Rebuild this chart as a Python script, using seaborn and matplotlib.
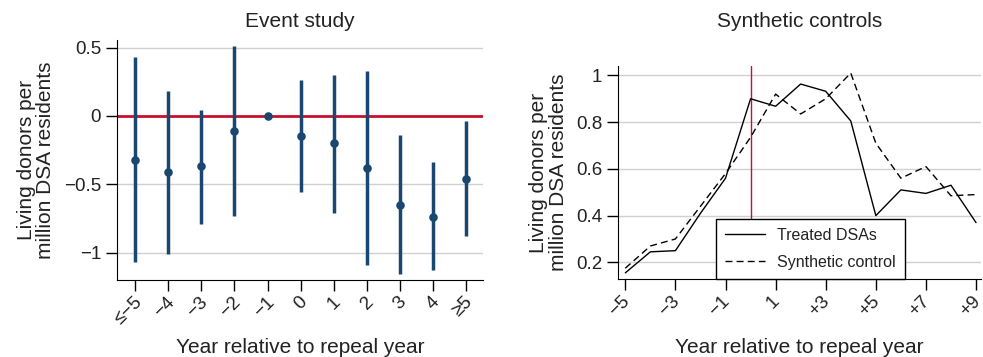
import numpy as np
import pandas as pd
import matplotlib
matplotlib.use('Agg')
import matplotlib.pyplot as plt
import matplotlib.transforms as mtransforms
import seaborn as sns

## Event study data ##
event_years = [-5, -4, -3, -2, -1, 0, 1, 2, 3, 4, 5]
event_labels = ['≤−5', '−4', '−3', '−2', '−1', '0', '1', '2', '3', '4', '≥5']
event_coef = [-0.32, -0.41, -0.37, -0.11, 0.0, -0.15, -0.20, -0.38, -0.65, -0.74, -0.46]
event_low = [-1.07, -1.01, -0.79, -0.73, 0.0, -0.56, -0.71, -1.09, -1.16, -1.13, -0.88]
event_high = [0.43, 0.18, 0.04, 0.51, 0.0, 0.26, 0.30, 0.33, -0.14, -0.34, -0.04]

## Synthetic control data ##
synth_years = [-5, -4, -3, -2, -1, 0, 1, 2, 3, 4, 5, 6, 7, 8, 9]
treated = [0.155, 0.245, 0.25, 0.41, 0.56, 0.90, 0.868, 0.963, 0.932, 0.805, 0.40, 0.51, 0.495, 0.53, 0.37]
synthetic = [0.175, 0.27, 0.30, 0.44, 0.58, 0.735, 0.92, 0.835, 0.90, 1.01, 0.71, 0.56, 0.61, 0.485, 0.49]
synth_ticks = [-5, -3, -1, 1, 3, 5, 7, 9]
synth_labels = ['−5', '−3', '−1', '1', '+3', '+5', '+7', '+9']

sns.set_style('white')
plt.rcParams['font.family'] = ['Liberation Sans', 'DejaVu Sans']

navy = '#1a476f'
red = '#c8102e'
grid_color = '#d0d0d0'
text_color = '#222222'
fs_title = 15
fs_label = 15
fs_tick = 13.5

fig = plt.figure(figsize=(9.83, 3.57), dpi=100)
ax1 = fig.add_axes([0.119, 0.216, 0.372, 0.672])
ax2 = fig.add_axes([0.629, 0.218, 0.369, 0.597])

# Event study panel
es = pd.DataFrame({'year': event_years, 'coef': event_coef, 'low': event_low, 'high': event_high})
for y in [0.5, -0.5, -1]:
    ax1.axhline(y, color=grid_color, lw=1, zorder=0)
ax1.axhline(0, color=red, lw=2, zorder=1)
ax1.vlines(es['year'], es['low'], es['high'], color=navy, lw=2.5, zorder=2)
sns.scatterplot(data=es, x='year', y='coef', ax=ax1, color=navy, s=38,
                edgecolor=navy, linewidth=0, zorder=3, legend=False)
ax1.set_xlim(-5.55, 5.5)
ax1.set_ylim(-1.2, 0.556)
ax1.set_yticks([0.5, 0, -0.5, -1])
ax1.set_yticklabels(['0.5', '0', '−0.5', '−1'])
ax1.set_xticks(event_years)
ax1.set_xticklabels(event_labels)
ax1.set_title('Event study', fontsize=fs_title, pad=9, color=text_color)
ax1.set_xlabel('Year relative to repeal year', fontsize=fs_label, labelpad=7, color=text_color)
ax1.set_ylabel('Living donors per\nmillion DSA residents', fontsize=fs_label, labelpad=6,
               linespacing=1.05, color=text_color)

# Synthetic controls panel
sc = pd.DataFrame({
    'year': synth_years * 2,
    'value': treated + synthetic,
    'group': ['Treated DSAs'] * len(synth_years) + ['Synthetic control'] * len(synth_years),
})
for y in [0.2, 0.4, 0.6, 0.8, 1.0]:
    ax2.axhline(y, color=grid_color, lw=1, zorder=0)
ax2.axvline(0, color=red, lw=1, zorder=1)
sns.lineplot(data=sc, x='year', y='value', style='group', ax=ax2, color='black',
             lw=1, dashes={'Treated DSAs': '', 'Synthetic control': (5, 3)}, zorder=2)
ax2.set_xlim(-5.28, 9.2)
ax2.set_ylim(0.128, 1.04)
ax2.set_yticks([0.2, 0.4, 0.6, 0.8, 1.0])
ax2.set_yticklabels(['0.2', '0.4', '0.6', '0.8', '1'])
ax2.set_xticks(synth_ticks)
ax2.set_xticklabels(synth_labels)
ax2.set_title('Synthetic controls', fontsize=fs_title, pad=28, color=text_color)
ax2.set_xlabel('Year relative to repeal year', fontsize=fs_label, labelpad=13, color=text_color)
ax2.set_ylabel('Living donors per\nmillion DSA residents', fontsize=fs_label, labelpad=6,
               linespacing=1.05, color=text_color)
leg = ax2.legend(loc='upper left', bbox_to_anchor=(716 / 983, 1 - 219 / 357),
                 bbox_transform=fig.transFigure, borderaxespad=0,
                 fontsize=11.5, handlelength=2.5, fancybox=False, edgecolor='black',
                 framealpha=1, borderpad=0.55, labelspacing=0.75, handletextpad=0.8)
leg.get_frame().set_linewidth(1)
for t in leg.get_texts():
    t.set_color(text_color)

for ax, dx in ((ax1, 4), (ax2, 1.5)):
    sns.despine(ax=ax)
    ax.spines['left'].set_color('black')
    ax.spines['bottom'].set_color('black')
    ax.tick_params(axis='both', which='both', direction='out', length=8, width=1,
                   color='black', labelsize=fs_tick, labelcolor=text_color,
                   bottom=True, left=True)
    ax.tick_params(axis='x', pad=6)
    ax.grid(False)
    shift = mtransforms.ScaledTranslation(dx / 100, 0, fig.dpi_scale_trans)
    for lab in ax.get_xticklabels():
        lab.set_rotation(45)
        lab.set_rotation_mode('anchor')
        lab.set_ha('right')
        lab.set_va('center')
        lab.set_transform(lab.get_transform() + shift)

fig.savefig('out.png', dpi=100)
